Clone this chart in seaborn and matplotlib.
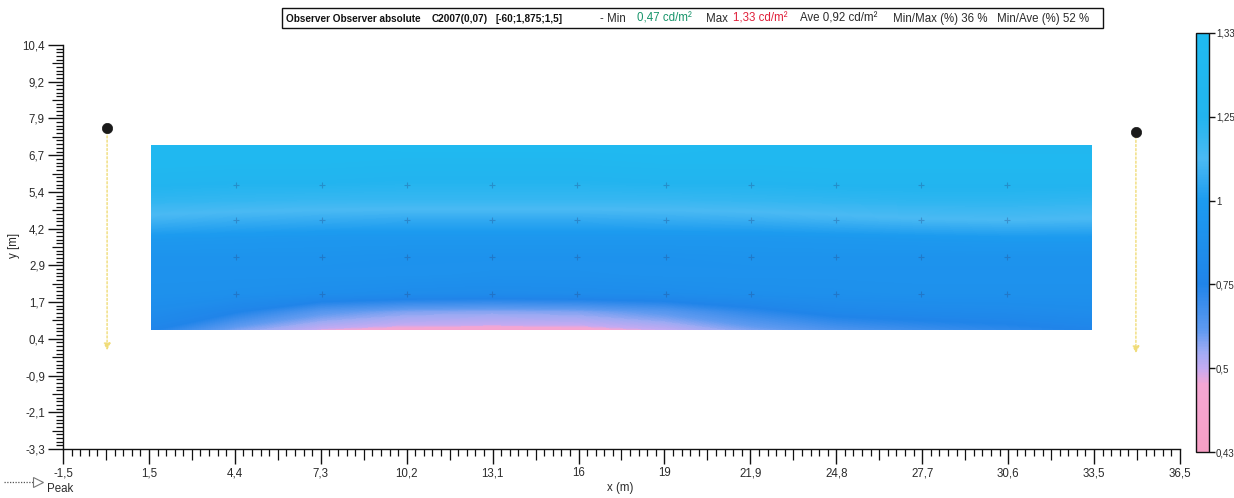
import numpy as np
import matplotlib
matplotlib.use("Agg")
import matplotlib.pyplot as plt
import seaborn as sns
from matplotlib.colors import LinearSegmentedColormap, FuncNorm
from matplotlib.cm import ScalarMappable
from matplotlib.patches import Rectangle
from matplotlib.lines import Line2D

# ---------------- data ----------------
x_cols = [1.5, 4.4, 7.3, 10.2, 13.1, 16.0, 19.0, 21.9, 24.8, 27.7, 30.6, 33.5]
y_rows = [0.75, 1.375, 2.0, 2.625, 3.25, 3.875, 4.5, 5.125, 5.75, 6.375, 7.0]
lum_r0 = [0.76, 0.58, 0.49, 0.47, 0.47, 0.47, 0.50, 0.58, 0.65, 0.69, 0.72, 0.76]
lum_r1 = [0.84, 0.76, 0.63, 0.58, 0.57, 0.58, 0.63, 0.72, 0.79, 0.81, 0.82, 0.84]
lum_r2 = [0.89, 0.88, 0.86, 0.84, 0.83, 0.84, 0.85, 0.87, 0.88, 0.89, 0.89, 0.89]
lum_r3 = [0.90, 0.90, 0.90, 0.90, 0.89, 0.89, 0.90, 0.90, 0.90, 0.90, 0.90, 0.90]
lum_r4 = [0.92, 0.92, 0.92, 0.91, 0.91, 0.91, 0.91, 0.92, 0.92, 0.92, 0.92, 0.92]
lum_r5 = [0.98, 0.97, 0.96, 0.96, 0.96, 0.96, 0.96, 0.96, 0.97, 0.98, 0.99, 0.99]
lum_r6 = [1.10, 1.08, 1.07, 1.06, 1.06, 1.06, 1.07, 1.08, 1.10, 1.12, 1.13, 1.12]
lum_r7 = [1.20, 1.19, 1.18, 1.18, 1.18, 1.18, 1.18, 1.19, 1.20, 1.21, 1.21, 1.20]
lum_r8 = [1.26, 1.25, 1.25, 1.24, 1.24, 1.24, 1.25, 1.25, 1.26, 1.26, 1.26, 1.26]
lum_r9 = [1.30, 1.29, 1.29, 1.28, 1.28, 1.28, 1.29, 1.29, 1.30, 1.30, 1.30, 1.30]
lum_r10 = [1.29, 1.30, 1.30, 1.31, 1.31, 1.31, 1.31, 1.30, 1.30, 1.29, 1.28, 1.28]

grid_x = [4.4, 7.3, 10.2, 13.1, 16.0, 19.0, 21.9, 24.8, 27.7, 30.6]
grid_y = [1.95, 3.2, 4.45, 5.65]

obs_x = [0.0, 35.0]
obs_y = [7.6, 7.45]
obs_end_y = [0.05, -0.05]

cbar_levels = [0.43, 0.5, 0.75, 1.0, 1.25, 1.33]
cbar_labels = ["0,43", "0,5", "0,75", "1", "1,25", "1,33"]

x_tick_labels = ["-1,5", "1,5", "4,4", "7,3", "10,2", "13,1", "16", "19",
                 "21,9", "24,8", "27,7", "30,6", "33,5", "36,5"]
y_tick_labels = ["-3,3", "-2,1", "-0,9", "0,4", "1,7", "2,9", "4,2", "5,4",
                 "6,7", "7,9", "9,2", "10,4"]

title_obs = "Observer Observer absolute"
title_calc = "C2007(0,07)"
title_pos = "[-60;1,875;1,5]"
stat_min_lbl = "- Min"
stat_min = "0,47 cd/m²"
stat_max_lbl = "Max"
stat_max = "1,33 cd/m²"
stat_ave = "Ave 0,92 cd/m²"
stat_minmax = "Min/Max (%) 36 %"
stat_minave = "Min/Ave (%) 52 %"

# ---------------- style ----------------
sns.set_theme(style="white")
plt.rcParams["font.family"] = ["Liberation Sans", "DejaVu Sans"]
TXT = "#2b2b2b"
FS = 8.3

W, H = 1234, 498
fig = plt.figure(figsize=(W / 100, H / 100), dpi=100)
fig.patch.set_facecolor("white")

ax = fig.add_axes([63 / W, 1 - 449 / H, (1180 - 63) / W, (449 - 45) / H])
ax.set_facecolor("white")

# colour scale: evenly spaced ticks of a non-linear scale
pos = np.linspace(0, 1, len(cbar_levels))


def fwd(v):
    return np.interp(np.asarray(v, dtype=float), cbar_levels, pos)


def inv(p):
    return np.interp(np.asarray(p, dtype=float), pos, cbar_levels)


norm = FuncNorm((fwd, inv), vmin=cbar_levels[0], vmax=cbar_levels[-1])
cmap = LinearSegmentedColormap.from_list("lum", [
    (0.00, "#f79fc5"),
    (0.16, "#f4a6d3"),
    (0.20, "#c2aaf2"),
    (0.24, "#9daaf3"),
    (0.29, "#5f9af0"),
    (0.40, "#2084e9"),
    (0.60, "#1c9bef"),
    (0.70, "#4ab9f3"),
    (0.80, "#22b4ef"),
    (1.00, "#1fbbf0"),
])

Z = np.array([lum_r0, lum_r1, lum_r2, lum_r3, lum_r4, lum_r5, lum_r6,
              lum_r7, lum_r8, lum_r9, lum_r10])
X, Y = np.meshgrid(x_cols, y_rows)
levels = np.linspace(cbar_levels[0], cbar_levels[-1], 181)
ax.contourf(X, Y, Z, levels=levels, cmap=cmap, norm=norm, extend="both",
            antialiased=False, zorder=1)

# calculation grid points
gx, gy = np.meshgrid(grid_x, grid_y)
ax.plot(gx.ravel(), gy.ravel(), "+", color="#274a86", alpha=0.35,
        markersize=5, markeredgewidth=0.8, zorder=2)

# observers
for ox, oy, ey in zip(obs_x, obs_y, obs_end_y):
    ax.annotate("", xy=(ox, ey), xytext=(ox, oy),
                arrowprops=dict(arrowstyle="-|>", color="#f0dc78", lw=1.0,
                                linestyle=(0, (1.5, 1.5)), mutation_scale=10,
                                shrinkA=0, shrinkB=0), zorder=3)
sns.scatterplot(x=obs_x, y=obs_y, ax=ax, color="#1a1a1a", s=55,
                edgecolor="#1a1a1a", linewidth=0.5, legend=False, zorder=6)

# axes & ticks
ax.set_xlim(-1.5, 36.5)
ax.set_ylim(-3.3, 10.4)
for s in ["top", "right"]:
    ax.spines[s].set_visible(False)
for s in ["left", "bottom"]:
    ax.spines[s].set_color("#111111")
    ax.spines[s].set_linewidth(1.0)

xmaj = np.linspace(-1.5, 36.5, len(x_tick_labels))
ymaj = np.linspace(-3.3, 10.4, len(y_tick_labels))
ax.set_xticks(xmaj, labels=x_tick_labels)
ax.set_yticks(ymaj, labels=y_tick_labels)

xstep = xmaj[1] - xmaj[0]
ystep = ymaj[1] - ymaj[0]
xmin = [xmaj[i] + j * xstep / 10 for i in range(len(xmaj) - 1) for j in range(1, 10)]
ymin = [ymaj[i] + j * ystep / 10 for i in range(len(ymaj) - 1) for j in range(1, 10)]
ax.set_xticks(xmin, minor=True)
ax.set_yticks(ymin, minor=True)

ax.tick_params(axis="both", which="both", bottom=True, left=True,
               top=False, right=False)
ax.tick_params(axis="both", which="major", direction="out", length=11,
               width=1.0, color="#111111", labelsize=FS, labelcolor=TXT, pad=2)
ax.tick_params(axis="both", which="minor", direction="out", length=5,
               width=0.9, color="#111111")
for k, t in enumerate(ax.xaxis.get_minor_ticks()):
    if k % 9 == 4:
        t.tick1line.set_markersize(8)
for k, t in enumerate(ax.yaxis.get_minor_ticks()):
    if k % 9 == 4:
        t.tick1line.set_markersize(8)
ax.grid(False)

# colour bar
cax = fig.add_axes([1196 / W, 1 - 452 / H, 13 / W, (452 - 33) / H])
sm = ScalarMappable(norm=norm, cmap=cmap)
cb = fig.colorbar(sm, cax=cax)
cb.set_ticks(cbar_levels, labels=cbar_labels)
cb.minorticks_off()
cb.outline.set_edgecolor("#111111")
cb.outline.set_linewidth(1.0)
cax.tick_params(axis="y", which="major", right=True, left=False,
                direction="out", length=4, width=1.0, color="#111111",
                labelsize=7.0, labelcolor=TXT, pad=1)

# overlay in pixel coordinates for texts/decorations
ov = fig.add_axes([0, 0, 1, 1], facecolor="none")
ov.set_xlim(0, W)
ov.set_ylim(H, 0)
ov.axis("off")

ov.text(14, 245, "y [m]", rotation=90, ha="center", va="center",
        fontsize=FS, color=TXT)
ov.text(620, 488, "x (m)", ha="center", va="center", fontsize=FS, color=TXT)

# Peak legend
ov.add_line(Line2D([4, 33], [482, 482], color="#555555", lw=0.9,
                   linestyle=(0, (1, 1.2))))
ov.plot([38], [482], marker=">", markersize=7, markerfacecolor="white",
        markeredgecolor="#777777", markeredgewidth=0.8)
ov.text(47, 489, "Peak", ha="left", va="center", fontsize=FS, color=TXT)

# title box with coloured pieces (left positions as in the reference)
box_l, box_r, box_t, box_b = 282, 1103, 8, 28
ymid = (box_t + box_b) / 2 + 0.5
FT = 8.3
fig.canvas.draw()
renderer = fig.canvas.get_renderer()
tb = ov.text(286, ymid, title_obs, fontsize=FT, color="#111111",
             fontweight="bold", ha="left", va="center")
fig.canvas.draw()
wb = tb.get_window_extent(renderer).width
FB = FT * 134 / wb
tb.set_fontsize(FB)
ov.text(432, ymid, title_calc, fontsize=FB, color="#111111",
        fontweight="bold", ha="left", va="center")
ov.text(496, ymid, title_pos, fontsize=FB, color="#111111",
        fontweight="bold", ha="left", va="center")
pieces = [
    (600, stat_min_lbl, TXT),
    (637, stat_min, "#17946a"),
    (706, stat_max_lbl, TXT),
    (733, stat_max, "#e0203a"),
    (800, stat_ave, TXT),
    (893, stat_minmax, TXT),
    (997, stat_minave, TXT),
]
for px, txt, col in pieces:
    ov.text(px, ymid, txt, fontsize=FT, color=col, ha="left", va="center")
ov.add_patch(Rectangle((box_l, box_t), box_r - box_l, box_b - box_t,
                       fill=False, edgecolor="#111111", lw=1.0))

fig.savefig("out.png", dpi=100, facecolor="white")
